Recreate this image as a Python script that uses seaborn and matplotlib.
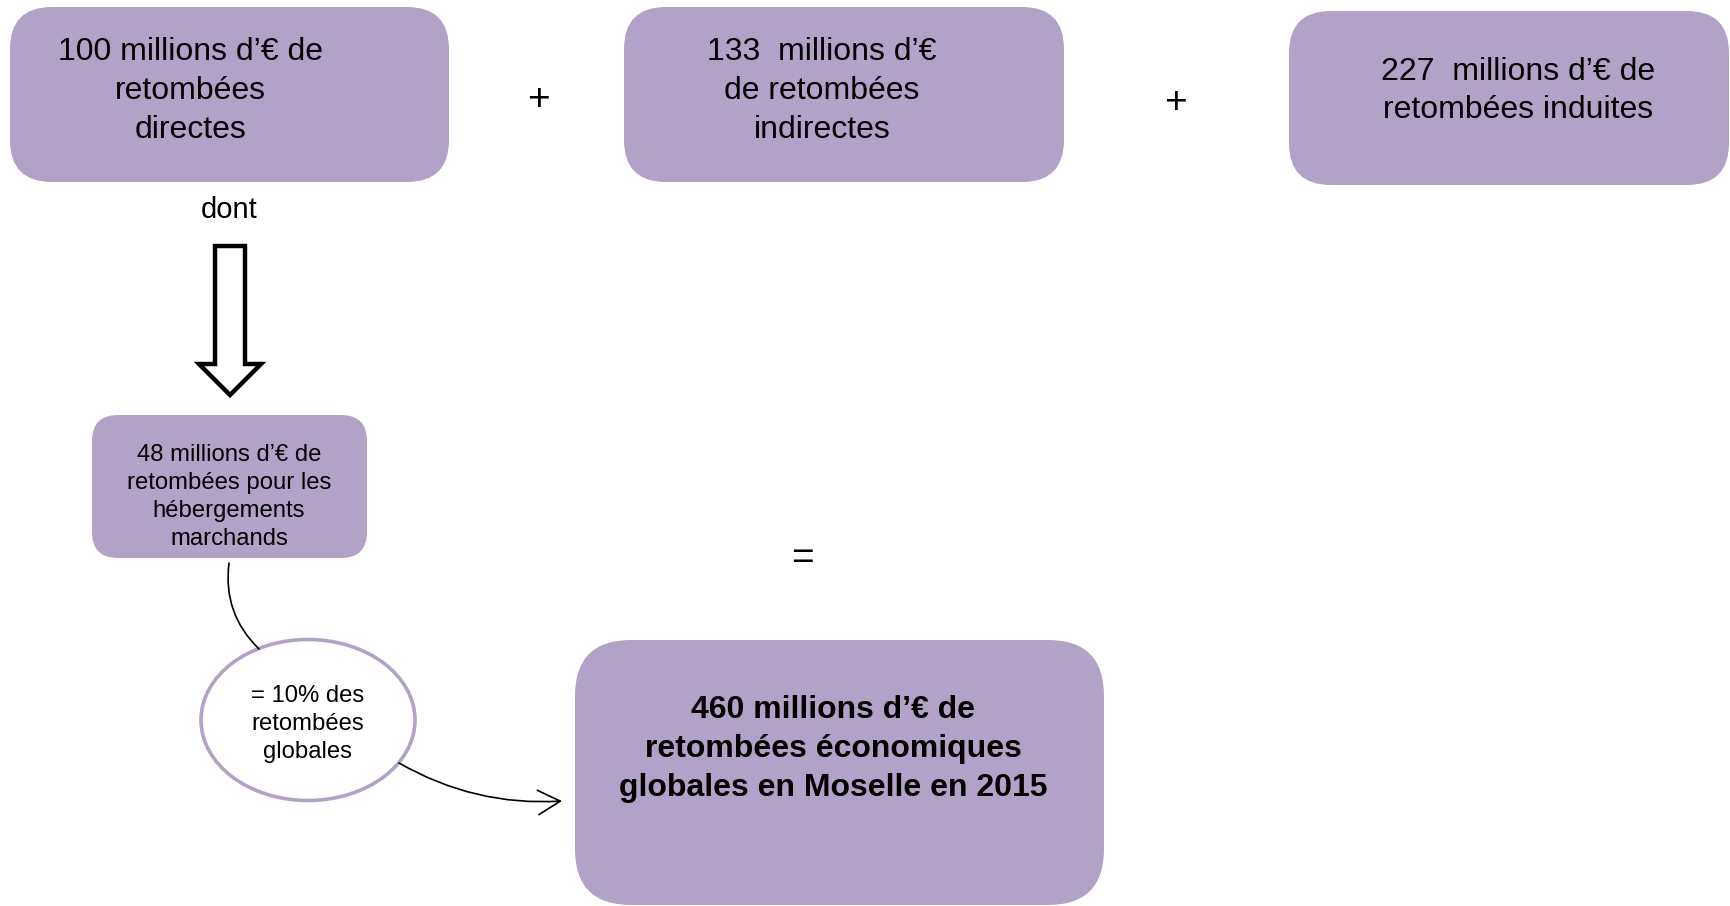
import numpy as np
import matplotlib
matplotlib.use("Agg")
import matplotlib.pyplot as plt
import seaborn as sns
from matplotlib.patches import FancyBboxPatch, Ellipse, Polygon, FancyArrowPatch

# Values shown in the diagram (millions of euros)
parts = ["directes", "indirectes", "induites"]
part_values = [100, 133, 227]
hebergement_value = 48
total_value = 460
share_pct = 10
year = 2015

sns.set_theme(style="white")
plt.rcParams['font.family'] = ['Liberation Sans', 'DejaVu Sans']
plt.rcParams['text.color'] = 'black'

purple = "#B3A2C7"

fig = plt.figure(figsize=(17.3, 9.06), dpi=100)
ax = fig.add_axes([0, 0, 1, 1])
ax.set_xlim(0, 1730)
ax.set_ylim(906, 0)
ax.axis('off')


def rbox(x0, y0, x1, y1, r):
    p = FancyBboxPatch((x0, y0), x1 - x0, y1 - y0,
                       boxstyle=f"round,pad=0,rounding_size={r}",
                       fc=purple, ec="none")
    ax.add_patch(p)


# top boxes
rbox(10, 7, 449, 182, 42)
rbox(624, 7, 1064, 182, 42)
rbox(1289, 11, 1729, 185, 42)

labels_top = [
    f"{part_values[0]} millions d\u2019\u20ac de\nretomb\u00e9es\n{parts[0]}",
    f"{part_values[1]}  millions d\u2019\u20ac\nde retomb\u00e9es\n{parts[1]}",
    f"{part_values[2]}  millions d\u2019\u20ac de\nretomb\u00e9es {parts[2]}",
]
text_x = [190, 822, 1518]
text_y = [91, 91, 91]
for lab, tx, ty in zip(labels_top, text_x, text_y):
    ax.text(tx, ty, lab, ha='center', va='center', fontsize=23,
            linespacing=1.38, color='black')

ax.text(538, 100, "+", ha='center', va='center', fontsize=28, color='black')
ax.text(1175, 103, "+", ha='center', va='center', fontsize=28, color='black')
ax.text(229, 210, "dont", ha='center', va='center', fontsize=21, color='black')

# hollow down arrow
arrow_pts = [(215, 246), (245, 246), (245, 364), (261, 364), (230, 395),
             (199, 364), (215, 364)]
ax.add_patch(Polygon(arrow_pts, closed=True, fc='white', ec='black', lw=3.2,
                     joinstyle='miter'))

# small box
rbox(92, 415, 367, 558, 26)
ax.text(229, 497,
        f"{hebergement_value} millions d\u2019\u20ac de\nretomb\u00e9es pour les\nh\u00e9bergements\nmarchands",
        ha='center', va='center', fontsize=17.2, linespacing=1.36, color='black')

# ellipse
ax.add_patch(Ellipse((308, 720), 214, 161, fc='white', ec=purple, lw=2.6))
ax.text(308, 724, f"= {share_pct}% des\nretomb\u00e9es\nglobales",
        ha='center', va='center', fontsize=17.2, linespacing=1.36, color='black')

# connectors
ax.add_patch(FancyArrowPatch((229, 563), (259, 649), arrowstyle='-',
                             connectionstyle='arc3,rad=0.25', lw=1.2,
                             color='black', shrinkA=0, shrinkB=0))
ax.add_patch(FancyArrowPatch((399, 763), (562, 801),
                             arrowstyle='->,head_length=1.0,head_width=0.55',
                             mutation_scale=16,
                             connectionstyle='arc3,rad=0.15', lw=1.2,
                             color='black', shrinkA=0, shrinkB=0))

ax.text(802, 559, "=", ha='center', va='center', fontsize=28, color='black')

# total box
rbox(575, 640, 1104, 905, 56)
ax.text(833, 749,
        f"{total_value} millions d\u2019\u20ac de\nretomb\u00e9es \u00e9conomiques\nglobales en Moselle en {year}",
        ha='center', va='center', fontsize=23, fontweight='bold',
        linespacing=1.38, color='black')

fig.savefig("out.png", dpi=100, facecolor='white')
